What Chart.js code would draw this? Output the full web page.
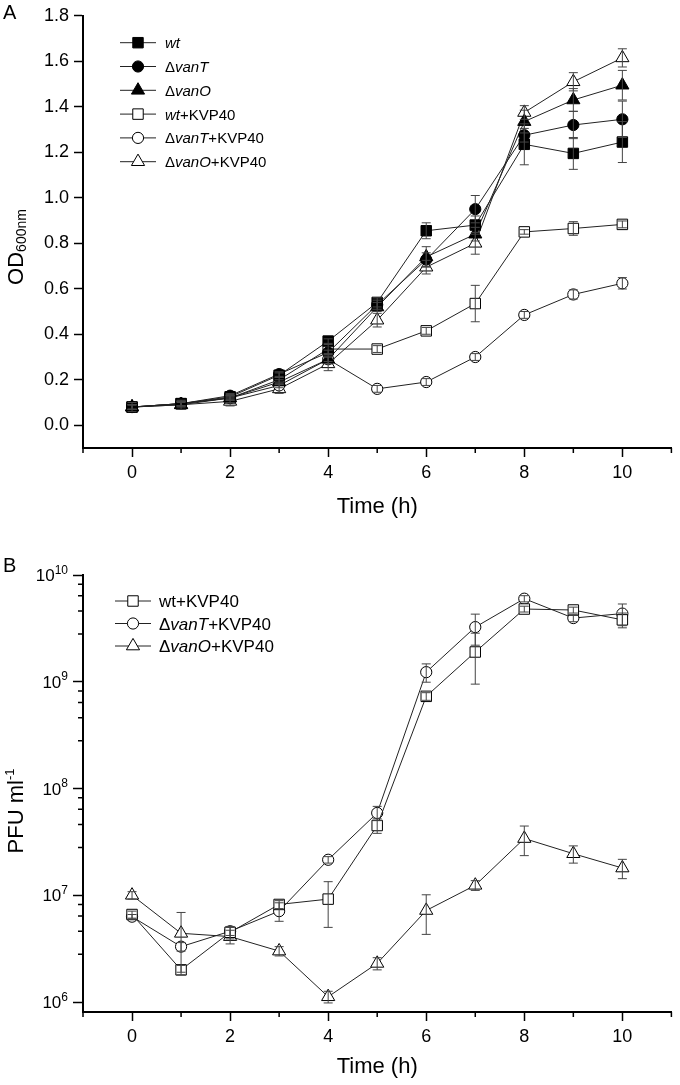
<!DOCTYPE html>
<html lang="en">
<head>
<meta charset="UTF-8" />
<title>OD600 growth and PFU titre</title>
<script src="https://cdn.jsdelivr.net/npm/chart.js@4.4.1/dist/chart.umd.min.js"></script>
<style>
  body { margin: 0; background: #fff; }
  .panel { position: absolute; left: 0; width: 680px; }
  #panelA { top: 0; height: 540px; }
  #panelB { top: 540px; height: 545px; }
</style>
</head>
<body>
<div class="panel" id="panelA"><canvas id="chartA" width="680" height="540"></canvas></div>
<div class="panel" id="panelB"><canvas id="chartB" width="680" height="545"></canvas></div>
<script>
const hours = [0, 1, 2, 3, 4, 5, 6, 7, 8, 9, 10];
const xMajorTicks = [0, 2, 4, 6, 8, 10];
const xMinorTicks = [-1, 1, 3, 5, 7, 9, 11];

// panel A - OD600nm, mean and sd
const odLabels = ['wt', 'ΔvanT', 'ΔvanO', 'wt+KVP40', 'ΔvanT+KVP40', 'ΔvanO+KVP40'];
const odWt       = [0.08, 0.095, 0.125, 0.22, 0.37, 0.54, 0.855, 0.88, 1.235, 1.195, 1.245];
const odVanT     = [0.08, 0.095, 0.13, 0.225, 0.32, 0.53, 0.728, 0.95, 1.275, 1.32, 1.345];
const odVanO     = [0.08, 0.09, 0.12, 0.19, 0.29, 0.52, 0.74, 0.84, 1.335, 1.43, 1.495];
const odWtK      = [0.08, 0.095, 0.12, 0.20, 0.335, 0.335, 0.415, 0.535, 0.85, 0.865, 0.883];
const odVanTK    = [0.08, 0.095, 0.12, 0.175, 0.29, 0.16, 0.19, 0.30, 0.485, 0.575, 0.624];
const odVanOK    = [0.08, 0.09, 0.105, 0.16, 0.27, 0.462, 0.695, 0.80, 1.375, 1.51, 1.615];
const odWtSd     = [0.01, 0.01, 0.01, 0.01, 0.01, 0.02, 0.035, 0.04, 0.09, 0.07, 0.09];
const odVanTSd   = [0.01, 0.01, 0.01, 0.01, 0.01, 0.02, 0.03, 0.06, 0.03, 0.06, 0.08];
const odVanOSd   = [0.01, 0.01, 0.01, 0.01, 0.02, 0.02, 0.045, 0.03, 0.05, 0.05, 0.065];
const odWtKSd    = [0.01, 0.01, 0.01, 0.01, 0.02, 0.015, 0.015, 0.08, 0.01, 0.03, 0.015];
const odVanTKSd  = [0.01, 0.01, 0.01, 0.01, 0.01, 0.015, 0.015, 0.015, 0.015, 0.02, 0.025];
const odVanOKSd  = [0.02, 0.02, 0.02, 0.02, 0.03, 0.03, 0.03, 0.048, 0.03, 0.04, 0.04];
const odTicks = [0, 0.2, 0.4, 0.6, 0.8, 1.0, 1.2, 1.4, 1.6, 1.8];

// panel B - PFU ml-1, mean and sd
const pfuLabels = ['wt+KVP40', 'ΔvanT+KVP40', 'ΔvanO+KVP40'];
const pfuWtK     = [6.6e6, 2.0e6, 4.5e6, 8.2e6, 9.2e6, 4.5e7, 7.3e8, 1.9e9, 4.8e9, 4.7e9, 3.8e9];
const pfuVanTK   = [6.3e6, 3.3e6, 4.6e6, 7.1e6, 2.15e7, 5.9e7, 1.23e9, 3.25e9, 6.0e9, 3.95e9, 4.35e9];
const pfuVanOK   = [1.0e7, 4.4e6, 4.1e6, 3.0e6, 1.12e6, 2.3e6, 7.2e6, 1.24e7, 3.4e7, 2.45e7, 1.8e7];
const pfuWtKSd   = [5e5, 2e5, 6e5, 7e5, 4.2e6, 7e6, 6e7, 9.5e8, 3e8, 3e8, 6e8];
const pfuVanTKSd = [3e5, 3e5, 4e5, 1.4e6, 1.5e6, 9e6, 2.4e8, 1.05e9, 4e8, 3e8, 1e9];
const pfuVanOKSd = [8e5, 2.5e6, 6e5, 3e5, 1.4e5, 3e5, 2.9e6, 1.3e6, 1.05e7, 4.5e6, 3.7e6];
const pfuDecades = [1e6, 1e7, 1e8, 1e9, 1e10];
const pfuMinorSteps = [2.8, 4.6, 6.4, 8.2];

const FONT = '"Liberation Sans", Arial, sans-serif';
const markerRadius = { rect: 7.4, circle: 5.6, triangle: 7.6 };

function fontStr(size, italic) {
  return (italic ? 'italic ' : '') + size + 'px ' + FONT;
}

function series(label, values, sd, style, filled) {
  return {
    label: label,
    data: hours.map((h, i) => ({ x: h, y: values[i] })),
    errors: sd,
    filledMarker: filled,
    borderColor: '#222',
    borderWidth: 1,
    pointStyle: style,
    pointRadius: markerRadius[style],
    pointHoverRadius: markerRadius[style],
    pointBackgroundColor: filled ? '#000' : '#fff',
    pointBorderColor: '#000',
    pointBorderWidth: 1,
    tension: 0,
    fill: false
  };
}

function richWidth(ctx, segs) {
  let w = 0;
  segs.forEach(s => { ctx.font = fontStr(s.size, s.italic); w += ctx.measureText(s.text).width; });
  return w;
}

function drawRich(ctx, segs, x, y) {
  segs.forEach(s => {
    ctx.font = fontStr(s.size, s.italic);
    ctx.fillText(s.text, x, y + (s.dy || 0));
    x += ctx.measureText(s.text).width;
  });
}

// strain names are italic, the delta and the phage are not
function labelSegs(label, size, italicWt) {
  const parts = label.split('+');
  const strain = parts[0];
  const segs = [];
  if (strain.startsWith('Δ')) {
    segs.push({ text: 'Δ', size: size });
    segs.push({ text: strain.slice(1), size: size, italic: true });
  } else {
    segs.push({ text: strain, size: size, italic: italicWt });
  }
  if (parts[1]) segs.push({ text: '+' + parts[1], size: size });
  return segs;
}

function drawMarker(ctx, style, r, x, y, filled) {
  ctx.beginPath();
  if (style === 'rect') {
    const h = r * Math.SQRT1_2;
    ctx.rect(x - h, y - h, 2 * h, 2 * h);
  } else if (style === 'circle') {
    ctx.arc(x, y, r, 0, Math.PI * 2);
  } else {
    ctx.moveTo(x, y - r);
    ctx.lineTo(x + r * Math.sin(Math.PI * 2 / 3), y - r * Math.cos(Math.PI * 2 / 3));
    ctx.lineTo(x + r * Math.sin(Math.PI * 4 / 3), y - r * Math.cos(Math.PI * 4 / 3));
    ctx.closePath();
  }
  ctx.fillStyle = filled ? '#000' : '#fff';
  ctx.fill();
  ctx.strokeStyle = '#000';
  ctx.lineWidth = 1;
  ctx.stroke();
}

const errorBars = {
  id: 'errorBars',
  afterDatasetsDraw(chart) {
    const ctx = chart.ctx, xs = chart.scales.x, ys = chart.scales.y;
    ctx.save();
    ctx.strokeStyle = '#444';
    ctx.lineWidth = 1;
    chart.data.datasets.forEach(ds => {
      ds.data.forEach((p, i) => {
        const e = ds.errors[i];
        const px = xs.getPixelForValue(p.x);
        const top = ys.getPixelForValue(p.y + e);
        const bot = ys.getPixelForValue(p.y - e);
        ctx.beginPath();
        ctx.moveTo(px, top); ctx.lineTo(px, bot);
        ctx.moveTo(px - 4.5, top); ctx.lineTo(px + 4.5, top);
        ctx.moveTo(px - 4.5, bot); ctx.lineTo(px + 4.5, bot);
        ctx.stroke();
      });
    });
    ctx.restore();
  }
};

const decor = {
  id: 'decor',
  afterDraw(chart, args, opts) {
    const ctx = chart.ctx, xs = chart.scales.x, ys = chart.scales.y;
    const area = chart.chartArea;
    ctx.save();
    ctx.fillStyle = '#000';
    ctx.strokeStyle = '#000';
    ctx.lineWidth = 1.5;
    ctx.textBaseline = 'alphabetic';
    ctx.textAlign = 'left';

    // minor ticks
    ctx.beginPath();
    xMinorTicks.forEach(v => {
      const px = xs.getPixelForValue(v);
      ctx.moveTo(px, area.bottom); ctx.lineTo(px, area.bottom + 5);
    });
    (opts.yMinor || []).forEach(v => {
      const py = ys.getPixelForValue(v);
      ctx.moveTo(area.left - 5, py); ctx.lineTo(area.left, py);
    });
    ctx.stroke();

    // log tick labels as 10 with a raised exponent
    if (opts.logLabels) {
      pfuDecades.forEach(v => {
        const py = ys.getPixelForValue(v);
        const exp = String(Math.round(Math.log10(v)));
        ctx.font = fontStr(17);
        const wMain = ctx.measureText('10').width;
        ctx.font = fontStr(12);
        const wSup = ctx.measureText(exp).width;
        const right = area.left - 15;
        drawRich(ctx, [{ text: '10', size: 17 }], right - wSup - wMain, py + 6);
        drawRich(ctx, [{ text: exp, size: 12 }], right - wSup, py - 1.5);
      });
    }

    // panel letter
    drawRich(ctx, [{ text: opts.letter, size: 20 }], 3, opts.letterY);

    // rotated y title
    ctx.save();
    ctx.translate(opts.yTitleX, opts.yTitleY);
    ctx.rotate(-Math.PI / 2);
    drawRich(ctx, opts.yTitle, -richWidth(ctx, opts.yTitle) / 2, 0);
    ctx.restore();

    // legend
    const lg = opts.legend;
    chart.data.datasets.forEach((ds, i) => {
      const y = lg.y + i * lg.gap;
      ctx.beginPath();
      ctx.lineWidth = 1;
      ctx.strokeStyle = '#222';
      ctx.moveTo(lg.x, y); ctx.lineTo(lg.x + lg.len, y);
      ctx.stroke();
      drawMarker(ctx, ds.pointStyle, ds.pointRadius, lg.x + lg.len / 2, y, ds.filledMarker);
      ctx.fillStyle = '#000';
      drawRich(ctx, labelSegs(ds.label, lg.size, lg.italicWt), lg.x + lg.len + lg.textGap, y + lg.size * 0.36);
    });
    ctx.restore();
  }
};

function xAxis(height, titlePad) {
  return {
    type: 'linear', min: -1, max: 11,
    afterBuildTicks: s => { s.ticks = xMajorTicks.map(v => ({ value: v })); },
    afterFit: s => { s.height = height; },
    ticks: { font: { family: FONT, size: 18 }, color: '#000', padding: 5, maxRotation: 0, autoSkip: false },
    grid: { drawOnChartArea: false, tickLength: 9, tickWidth: 1.5, tickColor: '#000' },
    border: { color: '#000', width: 2 },
    title: { display: true, text: 'Time (h)', color: '#000', font: { family: FONT, size: 22 }, padding: { top: 0, bottom: titlePad } }
  };
}

new Chart(document.getElementById('chartA'), {
  type: 'line',
  data: {
    datasets: [
      series(odLabels[0], odWt, odWtSd, 'rect', true),
      series(odLabels[1], odVanT, odVanTSd, 'circle', true),
      series(odLabels[2], odVanO, odVanOSd, 'triangle', true),
      series(odLabels[3], odWtK, odWtKSd, 'rect', false),
      series(odLabels[4], odVanTK, odVanTKSd, 'circle', false),
      series(odLabels[5], odVanOK, odVanOKSd, 'triangle', false)
    ]
  },
  options: {
    responsive: false,
    animation: false,
    layout: { padding: { top: 13, right: 2, left: 0, bottom: 0 } },
    scales: {
      x: xAxis(92, 20),
      y: {
        type: 'linear', min: -0.1, max: 1.8,
        afterBuildTicks: s => { s.ticks = odTicks.map(v => ({ value: v })); },
        afterFit: s => { s.width = 83; },
        ticks: { callback: v => v.toFixed(1), font: { family: FONT, size: 18 }, color: '#000', padding: 5 },
        grid: { drawOnChartArea: false, tickLength: 9, tickWidth: 1.5, tickColor: '#000' },
        border: { color: '#000', width: 2 }
      }
    },
    plugins: {
      legend: { display: false },
      tooltip: { enabled: false },
      decor: {
        letter: 'A', letterY: 19,
        yTitleX: 23, yTitleY: 247,
        yTitle: [{ text: 'OD', size: 22 }, { text: '600nm', size: 14, dy: 3 }],
        legend: { x: 120, y: 42.7, gap: 23.8, len: 36, textGap: 9, size: 15, italicWt: true }
      }
    }
  },
  plugins: [errorBars, decor]
});

const pfuMinor = [];
pfuDecades.slice(0, -1).forEach(d => pfuMinorSteps.forEach(m => pfuMinor.push(m * d)));

new Chart(document.getElementById('chartB'), {
  type: 'line',
  data: {
    datasets: [
      series(pfuLabels[0], pfuWtK, pfuWtKSd, 'rect', false),
      series(pfuLabels[1], pfuVanTK, pfuVanTKSd, 'circle', false),
      series(pfuLabels[2], pfuVanOK, pfuVanOKSd, 'triangle', false)
    ]
  },
  options: {
    responsive: false,
    animation: false,
    layout: { padding: { top: 35, right: 2, left: 0, bottom: 0 } },
    scales: {
      x: xAxis(73, 5),
      y: {
        type: 'logarithmic', min: 8.06e5, max: 1e10,
        afterBuildTicks: s => { s.ticks = pfuDecades.map(v => ({ value: v })); },
        afterFit: s => { s.width = 83; },
        ticks: { display: false },
        grid: { drawOnChartArea: false, tickLength: 10, tickWidth: 1.5, tickColor: '#000' },
        border: { color: '#000', width: 2 }
      }
    },
    plugins: {
      legend: { display: false },
      tooltip: { enabled: false },
      decor: {
        letter: 'B', letterY: 32,
        yTitleX: 23, yTitleY: 271,
        yTitle: [{ text: 'PFU ml', size: 22 }, { text: '-1', size: 13, dy: -9 }],
        yMinor: pfuMinor,
        logLabels: true,
        legend: { x: 115, y: 61, gap: 22.5, len: 36, textGap: 8, size: 17, italicWt: false }
      }
    }
  },
  plugins: [errorBars, decor]
});
</script>
</body>
</html>
